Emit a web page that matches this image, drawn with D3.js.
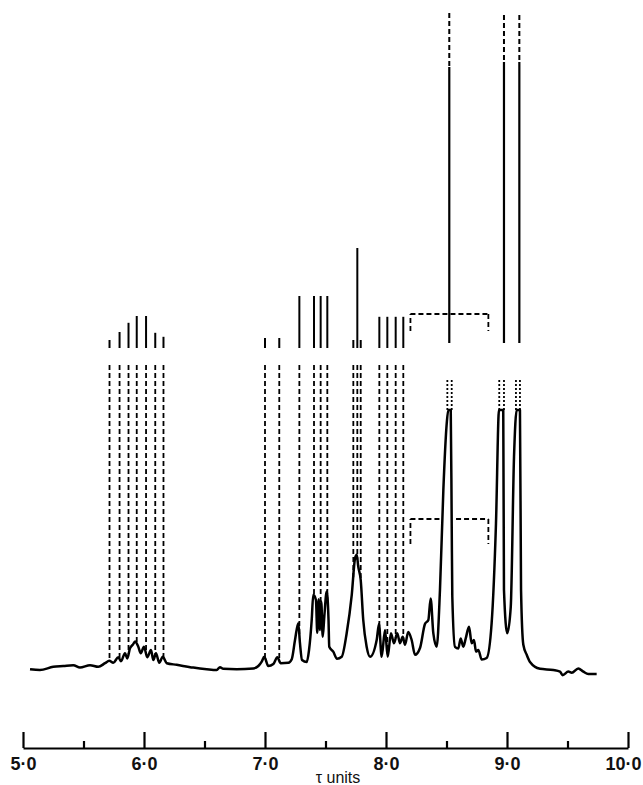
<!DOCTYPE html>
<html lang="en">
  <head>
    <meta charset="UTF-8" />
    <title>NMR spectrum</title>
    <style>
      body { margin: 0; background: #fff; }
      .axis path,
      .axis line {
        fill: none;
        stroke: #000;
        stroke-width: 2.2;
      }
      .axis text {
        font-family: 'Liberation Sans', sans-serif;
        font-size: 18px;
        font-weight: bold;
        fill: #111;
      }
    </style>
    <script src="https://d3js.org/d3.v7.min.js"></script>
  </head>
  <body>
    <svg width="643" height="785"></svg>
    <script>
      // recorder trace (tau, intensity)
      var traceTau = [5.058, 5.140, 5.250, 5.333, 5.416, 5.471, 5.554, 5.622, 5.678, 5.713,
        5.746, 5.788, 5.810, 5.843, 5.862, 5.884, 5.907, 5.926, 5.953, 5.973,
        6.000, 6.027, 6.058, 6.077, 6.099, 6.126, 6.155, 6.188, 6.270, 6.407,
        6.518, 6.601, 6.628, 6.655, 6.766, 6.903, 6.945, 6.973, 6.994, 7.027,
        7.069, 7.102, 7.130, 7.193, 7.221, 7.248, 7.275, 7.289, 7.306, 7.345,
        7.364, 7.386, 7.399, 7.421, 7.432, 7.444, 7.455, 7.465, 7.477, 7.490,
        7.510, 7.525, 7.531, 7.564, 7.595, 7.634, 7.675, 7.717, 7.744, 7.758,
        7.771, 7.791, 7.812, 7.840, 7.868, 7.923, 7.942, 7.964, 7.992, 8.014,
        8.041, 8.066, 8.093, 8.116, 8.138, 8.157, 8.184, 8.212, 8.240, 8.281,
        8.322, 8.350, 8.369, 8.391, 8.419, 8.446, 8.474, 8.502, 8.515, 8.535,
        8.543, 8.548, 8.570, 8.598, 8.617, 8.639, 8.659, 8.686, 8.708, 8.727,
        8.744, 8.763, 8.791, 8.832, 8.873, 8.909, 8.934, 8.969, 8.975, 9.002,
        9.031, 9.058, 9.080, 9.107, 9.116, 9.135, 9.163, 9.190, 9.273, 9.383,
        9.438, 9.460, 9.507, 9.535, 9.589, 9.631, 9.672, 9.741]
      var traceI = [0.7, 0.5, 1.3, 1.5, 1.7, 1.1, 1.7, 1.3, 2.2, 2.8,
        2.3, 3.7, 2.7, 4.7, 3.4, 5.9, 6.8, 7.6, 6.3, 4.7,
        6.3, 3.7, 5.5, 3.0, 4.7, 2.3, 3.8, 2.2, 1.8, 1.1,
        0.7, 0.5, 1.2, 0.8, 0.7, 0.9, 1.5, 2.6, 3.8, 1.5,
        2.0, 3.7, 2.2, 2.3, 3.2, 8.0, 12.2, 7.2, 3.0, 2.5,
        5.5, 13.0, 19.3, 18.0, 9.8, 18.2, 10.5, 17.6, 8.8, 13.8,
        20.1, 13.0, 6.3, 5.1, 3.3, 3.8, 9.7, 19.3, 28.4, 29.3,
        26.3, 23.0, 13.0, 6.3, 3.8, 8.0, 12.0, 3.8, 10.5, 3.8,
        9.7, 7.2, 9.7, 7.2, 8.8, 6.8, 10.0, 8.0, 4.3, 6.0,
        12.0, 13.0, 18.4, 9.7, 6.3, 20.5, 45.5, 62.2, 65.5, 65.5,
        37.0, 18.8, 6.3, 5.9, 8.4, 6.3, 8.4, 11.3, 7.2, 8.0,
        5.1, 5.5, 3.1, 3.5, 12.2, 37.2, 65.5, 65.5, 20.5, 9.7,
        16.3, 53.8, 65.5, 65.5, 20.5, 6.8, 4.3, 2.5, 0.8, 0.5,
        0.1, -0.8, 0.1, -0.2, 0.9, 0.1, -0.5, -0.5]

      // stick lines of the multiplets (position, height of solid stub)
      var lineTau = [5.715, 5.798, 5.872, 5.940, 6.017, 6.093, 6.161, 7.000, 7.118,
        7.284, 7.405, 7.460, 7.515, 7.730, 7.763, 7.791, 7.945, 8.011, 8.080, 8.143]
      var lineTop = [83, 85, 87.3, 89, 89, 84.8, 83.8, 83.5, 83.5,
        94, 94, 94, 94, 83, 106, 83, 88.8, 88.8, 88.8, 88.8]

      // off-scale singlets
      var tallTau = [8.523, 8.975, 9.102]
      var tallDashTop = [164.75, 164.25, 164.25]
      var tallSolidTop = [151.25, 152.5, 152.5]

      // edges of peaks cut off by the recorder
      var clipEdgeTau = [8.507, 8.543, 8.936, 8.975, 9.074, 9.107]

      // integral brackets
      var bracketTau = [8.202, 8.846]
      var bracketLevels = [[89.5, 85.25], [38.25, 32]]
      var bracketGap = [8.467, 8.579]

      var tickValues = [5, 5.5, 6, 6.5, 7, 7.5, 8, 8.5, 9, 9.5, 10]
      var tickLabels = ['5·0', '', '6·0', '', '7·0', '', '8·0', '', '9·0', '', '10·0']

      var stubBottom = 81, dashTop = 76.75, tallSolidBottom = 82.25
      var clipTop = 65.5, clipDotTop = 73

      var x = d3.scaleLinear().domain([5, 10]).range([23, 628])
      var y = d3.scaleLinear().domain([0, 165]).range([672, 12])

      var svg = d3.select('svg')

      function traceAt(t) {
        var i = d3.bisectLeft(traceTau, t)
        if (i <= 0) return traceI[0]
        if (i >= traceTau.length) return traceI[traceI.length - 1]
        var t0 = traceTau[i - 1], t1 = traceTau[i]
        return traceI[i - 1] + (traceI[i] - traceI[i - 1]) * (t - t0) / (t1 - t0)
      }

      function seg(g, x1, y1, x2, y2) {
        return g.append('line')
          .attr('x1', x1).attr('y1', y1)
          .attr('x2', x2).attr('y2', y2)
          .attr('stroke', '#000')
      }

      // multiplet sticks: solid stub + dashed drop to the trace
      var sticks = svg.append('g')
      lineTau.forEach(function(t, i) {
        seg(sticks, x(t), y(lineTop[i]), x(t), y(stubBottom)).attr('stroke-width', 2)
        seg(sticks, x(t), y(dashTop), x(t), y(traceAt(t)))
          .attr('stroke-width', 1.8)
          .attr('stroke-dasharray', '5,3')
      })

      // tall lines
      tallTau.forEach(function(t, i) {
        seg(sticks, x(t), y(tallDashTop[i]), x(t), y(tallSolidTop[i]))
          .attr('stroke-width', 2)
          .attr('stroke-dasharray', '5,3')
        seg(sticks, x(t), y(tallSolidTop[i]), x(t), y(tallSolidBottom)).attr('stroke-width', 2.2)
      })

      // dotted continuation of clipped peaks
      clipEdgeTau.forEach(function(t) {
        seg(sticks, x(t), y(clipDotTop), x(t), y(clipTop))
          .attr('stroke-width', 1.8)
          .attr('stroke-dasharray', '2,2')
      })

      // brackets
      bracketLevels.forEach(function(lv, k) {
        var b = sticks.append('g')
          .attr('stroke-width', 1.8)
          .attr('stroke-dasharray', '5,3')
        seg(b, x(bracketTau[0]), y(lv[1]), x(bracketTau[0]), y(lv[0]))
        seg(b, x(bracketTau[1]), y(lv[0]), x(bracketTau[1]), y(lv[1]))
        if (k === 0) {
          seg(b, x(bracketTau[0]), y(lv[0]), x(bracketTau[1]), y(lv[0]))
        } else {
          seg(b, x(bracketTau[0]), y(lv[0]), x(bracketGap[0]), y(lv[0]))
          seg(b, x(bracketGap[1]), y(lv[0]), x(bracketTau[1]), y(lv[0]))
        }
      })

      // the trace
      var line = d3.line()
        .x(function(d, i) { return x(traceTau[i]) })
        .y(function(d) { return y(d) })
        .curve(d3.curveMonotoneX)
      svg.append('path')
        .datum(traceI)
        .attr('d', line)
        .attr('fill', 'none')
        .attr('stroke', '#000')
        .attr('stroke-width', 2.5)
        .attr('stroke-linejoin', 'round')

      // axis with upward ticks
      var xAxis = d3.axisBottom(x)
        .tickValues(tickValues)
        .tickSizeInner(-16)
        .tickSizeOuter(0)
        .tickPadding(9)
        .tickFormat(function(d, i) { return tickLabels[i] })
      var ax = svg.append('g')
        .attr('class', 'axis')
        .attr('transform', 'translate(0, 748)')
        .call(xAxis)
      ax.selectAll('.tick line').attr('y2', function(d, i) { return i % 2 ? -7 : -16 })
      ax.selectAll('.tick text').attr('dx', function(d, i) { return i === 10 ? -5 : 0 })

      svg.append('text')
        .attr('x', 338)
        .attr('y', 783)
        .attr('text-anchor', 'middle')
        .attr('font-family', "'Liberation Sans', sans-serif")
        .attr('font-size', 16)
        .attr('fill', '#111')
        .text('τ units')
    </script>
  </body>
</html>
